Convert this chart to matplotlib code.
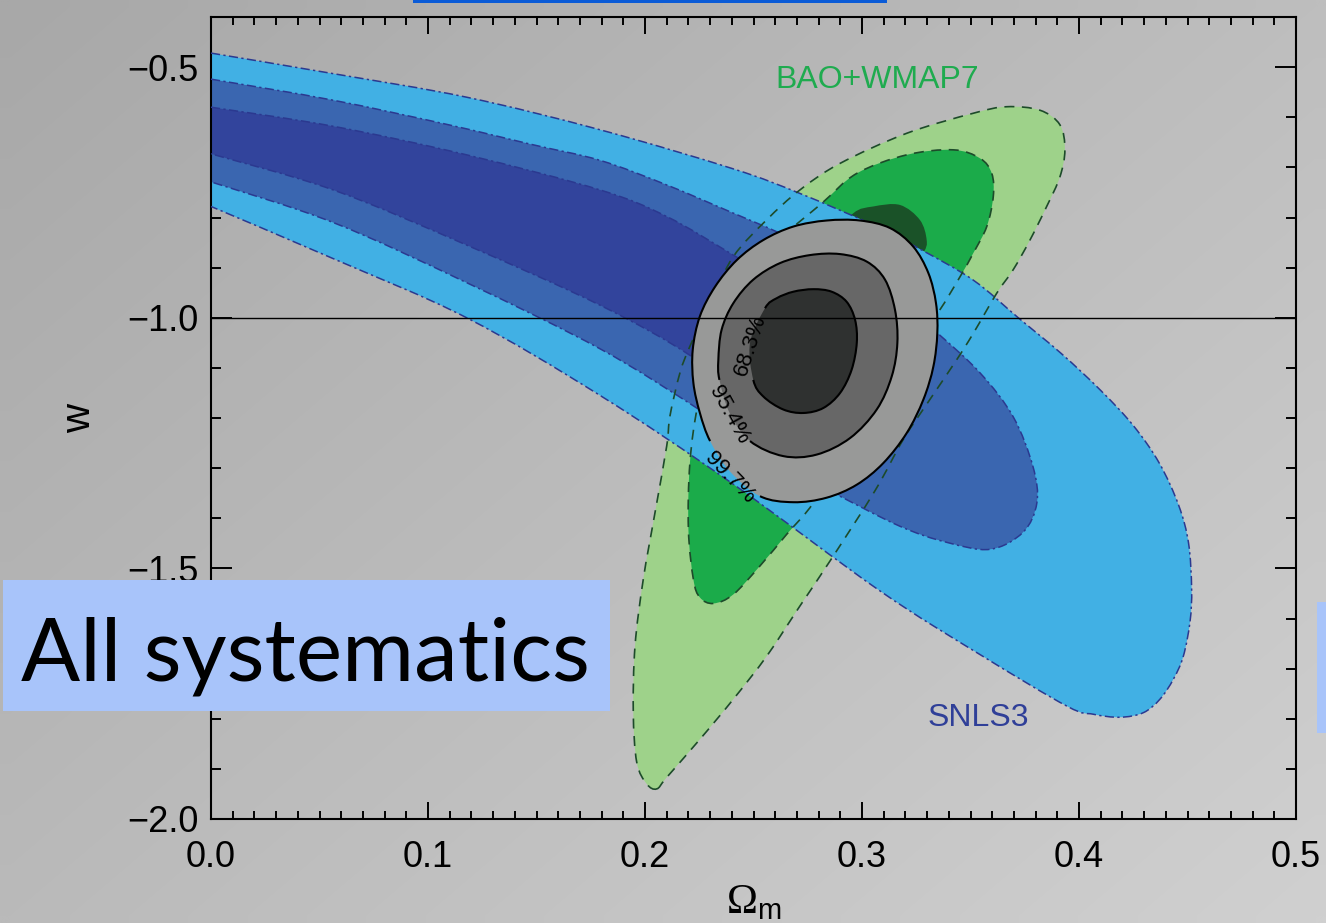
import numpy as np
import matplotlib
matplotlib.use("Agg")
import matplotlib.pyplot as plt
from matplotlib.path import Path
from matplotlib.patches import PathPatch, Rectangle
from matplotlib.ticker import MultipleLocator, FuncFormatter

# ---------------- contour boundaries (Omega_m, w) ----------------
# SNLS3 alone: 99.7 %, 95.4 %, 68.3 % regions (open on the Omega_m = 0 edge)
snls_997_om = [0, .0563, .1178, .1793, .2407, .2714, .3052, .3267, .3513, .3720, .3920, .4100,
               .4250, .4370, .4460, .4505, .4519, .4512, .4481, .4435, .4373, .4296, .4189,
               .4066, .3945, .3544, .3083, .2400, .1793, .1178, .0563, 0]
snls_997_w = [-0.472, -0.513, -0.560, -0.625, -0.703, -0.752, -0.815, -0.863, -0.925, -1.000,
              -1.072, -1.145, -1.215, -1.290, -1.375, -1.450, -1.540, -1.605, -1.675, -1.721,
              -1.761, -1.788, -1.797, -1.791, -1.775, -1.672, -1.545, -1.330, -1.155, -1.000,
              -0.882, -0.778]

snls_954_om = [0, .0563, .1100, .1485, .1793, .2100, .2400, .2620, .2900, .3150, .3346, .3544,
               .3696, .3788, .3806, .3742, .3590, .3390, .3175, .2867, .2650, .2450, .2238,
               .1793, .1178, .0563, 0]
snls_954_w = [-0.524, -0.566, -0.6155, -0.655, -0.686, -0.735, -0.790, -0.831, -0.890, -0.960,
              -1.030, -1.110, -1.197, -1.297, -1.369, -1.428, -1.462, -1.448, -1.416, -1.349,
              -1.300, -1.245, -1.180, -1.062, -0.930, -0.810, -0.729]

snls_683_om = [0, .0563, .1178, .1793, .2100, .2407, .2650, .2850, .2950, .2870, .2650, .2400,
               .2207, .1793, .1178, .0563, 0]
snls_683_w = [-0.580, -0.618, -0.675, -0.745, -0.798, -0.875, -0.940, -1.010, -1.090, -1.150,
              -1.175, -1.150, -1.075, -0.975, -0.855, -0.745, -0.673]

# BAO+WMAP7: closed regions
bao_997_om = [.2054, .2008, .1962, .1946, .1954, .1992, .2046, .2100, .2115, .2161, .2207, .2300,
              .2407, .2560, .2714, .2899, .3206, .3513, .3667, .3820, .3912, .3935, .3912, .3851,
              .3774, .3697, .3621, .3513, .3436, .3313, .3190, .3060, .2853, .2714, .2561, .2407,
              .2253, .2100]
bao_997_w = [-1.940, -1.930, -1.887, -1.787, -1.655, -1.522, -1.389, -1.256, -1.196, -1.110,
             -1.057, -0.970, -0.878, -0.805, -0.745, -0.692, -0.632, -0.592, -0.579, -0.586,
             -0.615, -0.665, -0.719, -0.778, -0.845, -0.904, -0.951, -1.031, -1.084, -1.163,
             -1.243, -1.345, -1.485, -1.575, -1.675, -1.761, -1.841, -1.917]

bao_954_om = [.2315, .2253, .2223, .2200, .2207, .2245, .2320, .2450, .2620, .2814, .2976, .3206,
              .3420, .3544, .3598, .3605, .3575, .3513, .3452, .3350, .3200, .3050, .2900, .2776,
              .2653, .2530, .2407]
bao_954_w = [-1.570, -1.558, -1.522, -1.422, -1.289, -1.170, -1.050, -0.940, -0.845, -0.772,
             -0.712, -0.675, -0.665, -0.682, -0.712, -0.758, -0.818, -0.871, -0.918, -0.990,
             -1.080, -1.170, -1.270, -1.369, -1.432, -1.495, -1.552]

bao_683_om = [.2960, .3052, .3175, .3267, .3298, .3283, .3200, .3050, .2900, .2850]
bao_683_w = [-0.7915, -0.778, -0.775, -0.805, -0.845, -0.871, -0.930, -0.990, -0.960, -0.850]

# Combined SNLS3+BAO+WMAP7; the last two segments of each loop run under its label
comb_997_om = [.2530, .2684, .2837, .2976, .3098, .3206, .3283, .3329, .3347, .3341, .3306,
               .3236, .3129, .2991, .2837, .2684, .2545, .2423, .2323, .2253, .2220, .2223,
               .2253, .2300, .2390]
comb_997_w = [-1.356, -1.368, -1.359, -1.333, -1.290, -1.230, -1.163, -1.097, -1.031, -0.971,
              -0.911, -0.858, -0.821, -0.806, -0.806, -0.818, -0.845, -0.885, -0.938, -0.997,
              -1.064, -1.130, -1.190, -1.246, -1.306]

comb_954_om = [.2484, .2637, .2791, .2945, .3068, .3137, .3163, .3152, .3106, .3022, .2899,
               .2760, .2622, .2499, .2407, .2353, .2338, .2343, .2390]
comb_954_w = [-1.246, -1.276, -1.273, -1.240, -1.183, -1.117, -1.050, -0.984, -0.924, -0.888,
              -0.873, -0.875, -0.891, -0.924, -0.971, -1.024, -1.084, -1.124, -1.190]

comb_683_om = [.2499, .2545, .2637, .2730, .2822, .2899, .2952, .2976, .2968, .2929, .2860,
               .2776, .2684, .2607, .2553, .2484]
comb_683_w = [-1.124, -1.157, -1.183, -1.190, -1.180, -1.150, -1.104, -1.050, -1.004, -0.968,
              -0.948, -0.943, -0.948, -0.961, -0.981, -1.050]

level_labels = ["68.3%", "95.4%", "99.7%"]
label_om = [0.2484, 0.2387, 0.2390]
label_w = [-1.056, -1.193, -1.319]
label_rot = [72, -61, -46]

x_ticks = [0.0, 0.1, 0.2, 0.3, 0.4, 0.5]
y_ticks = [-2.0, -1.5, -1.0, -0.5]

# ---------------- colours ----------------
c_snls = ["#41b0e4", "#3a66b0", "#32449c"]
c_snls_line = "#2b3990"
c_bao = ["#9ed28a", "#1bab4a", "#1a5228"]
c_bao_line = "#1d4b2a"
c_comb = ["#989998", "#676767", "#2f3130"]

plt.rcParams["mathtext.fontset"] = "custom"
plt.rcParams["mathtext.rm"] = "Liberation Sans"
plt.rcParams["mathtext.sf"] = "Liberation Sans"


def spline_segments(om, w, closed):
    """Catmull-Rom spline through the points, as cubic Bezier segments."""
    p = np.column_stack([om, w]).astype(float)
    n = len(p)
    segs = []
    for i in (range(n) if closed else range(n - 1)):
        if closed:
            p0, p1, p2, p3 = p[(i - 1) % n], p[i], p[(i + 1) % n], p[(i + 2) % n]
        else:
            p0, p1, p2, p3 = p[max(i - 1, 0)], p[i], p[i + 1], p[min(i + 2, n - 1)]
        segs.append((p1 + (p2 - p0) / 6.0, p2 - (p3 - p1) / 6.0, p2))
    return p[0], segs


def bezier_path(start, segs, close=False):
    verts, codes = [start], [Path.MOVETO]
    for c1, c2, end in segs:
        verts += [c1, c2, end]
        codes += [Path.CURVE4] * 3
    if close:
        verts.append(start)
        codes.append(Path.CLOSEPOLY)
    return Path(verts, codes)


def minus_fmt(v, _pos):
    return f"{v:.1f}".replace("-", "\u2212")


fig = plt.figure(figsize=(13.26, 9.23), dpi=100)

# slide background: soft diagonal grey gradient
bg = fig.add_axes([0, 0, 1, 1], zorder=-5)
gx, gy = np.meshgrid(np.linspace(0, 1, 64), np.linspace(0, 1, 64))
grey = (168 + 22 * gx + 18 * gy) / 255.0
bg.imshow(np.dstack([grey, grey, grey]), extent=[0, 1, 0, 1], aspect="auto",
          interpolation="bilinear", origin="upper")
bg.set_axis_off()

ax = fig.add_axes([211 / 1326, 104 / 923, 1085 / 1326, 802 / 923])
ax.set_facecolor("none")
ax.set_xlim(0.0, 0.5)
ax.set_ylim(-2.0, -0.4)

# BAO+WMAP7 filled regions
for om, w, col in [(bao_997_om, bao_997_w, c_bao[0]), (bao_954_om, bao_954_w, c_bao[1]),
                   (bao_683_om, bao_683_w, c_bao[2])]:
    s, segs = spline_segments(om, w, closed=True)
    ax.add_patch(PathPatch(bezier_path(s, segs, close=True), facecolor=col,
                           edgecolor="none", zorder=1))

# SNLS3 filled regions and dash-dot outlines
snls_sets = [(snls_997_om, snls_997_w, c_snls[0]), (snls_954_om, snls_954_w, c_snls[1]),
             (snls_683_om, snls_683_w, c_snls[2])]
for om, w, col in snls_sets:
    s, segs = spline_segments(om, w, closed=False)
    ax.add_patch(PathPatch(bezier_path(s, segs, close=True), facecolor=col,
                           edgecolor="none", zorder=2))
for om, w, col in snls_sets:
    s, segs = spline_segments(om, w, closed=False)
    ax.add_patch(PathPatch(bezier_path(s, segs), fill=False, edgecolor=c_snls_line,
                           linewidth=1.1, linestyle=(0, (6, 2.2, 1.5, 2.2)), zorder=3))

# BAO+WMAP7 dashed outlines
for om, w in [(bao_997_om, bao_997_w), (bao_954_om, bao_954_w)]:
    s, segs = spline_segments(om, w, closed=True)
    ax.add_patch(PathPatch(bezier_path(s, segs, close=True), fill=False,
                           edgecolor=c_bao_line, linewidth=1.2, linestyle=(0, (6, 4.5)),
                           zorder=3.5))

# combined constraints: filled loops, outlines broken where the labels sit
for om, w, col in [(comb_997_om, comb_997_w, c_comb[0]), (comb_954_om, comb_954_w, c_comb[1]),
                   (comb_683_om, comb_683_w, c_comb[2])]:
    s, segs = spline_segments(om, w, closed=True)
    ax.add_patch(PathPatch(bezier_path(s, segs, close=True), facecolor=col,
                           edgecolor="none", zorder=4))
    ax.add_patch(PathPatch(bezier_path(s, segs[:-2]), fill=False, edgecolor="black",
                           linewidth=1.5, zorder=4.5))

for txt, om, w, rot in zip(level_labels, label_om, label_w, label_rot):
    ax.text(om, w, txt, rotation=rot, rotation_mode="anchor", ha="center", va="center",
            fontsize=16, family="Liberation Sans", color="black", zorder=5)

ax.axhline(-1.0, color="black", linewidth=1.0, zorder=6)

ax.text(0.307, -0.526, "BAO+WMAP7", color="#1fab4f", fontsize=23,
        family="Liberation Sans", ha="center", va="center", zorder=6)
ax.text(0.3535, -1.799, "SNLS3", color="#2f3f98", fontsize=23,
        family="Liberation Sans", ha="center", va="center", zorder=6)

# axes styling
ax.set_xticks(x_ticks)
ax.set_yticks(y_ticks)
ax.xaxis.set_major_formatter(FuncFormatter(minus_fmt))
ax.yaxis.set_major_formatter(FuncFormatter(minus_fmt))
ax.xaxis.set_minor_locator(MultipleLocator(0.01))
ax.yaxis.set_minor_locator(MultipleLocator(0.1))
ax.tick_params(which="both", direction="in", top=True, right=True, width=1.4,
               color="black", labelsize=26)
ax.tick_params(axis="x", which="major", length=12, pad=15)
ax.tick_params(axis="x", which="minor", length=6)
ax.tick_params(axis="y", which="major", length=15, pad=9)
ax.tick_params(axis="y", which="minor", length=7.5)
for lab in ax.get_xticklabels() + ax.get_yticklabels():
    lab.set_family("Liberation Sans")
for sp in ax.spines.values():
    sp.set_linewidth(1.5)

ax.set_xlabel("\u03a9$_{\\rm m}$", fontsize=30, family="Liberation Serif", labelpad=6)
ax.set_ylabel("w", fontsize=29, family="Liberation Sans", labelpad=21)

# slide overlays
fig.add_artist(Rectangle((3 / 1326, 212 / 923), 607 / 1326, 131 / 923,
                         transform=fig.transFigure, facecolor="#a8c4fa",
                         edgecolor="none", zorder=10))
fig.text(21 / 1326, 243 / 923, "All systematics", family="Lato", fontsize=63,
         color="black", ha="left", va="baseline", zorder=11)
fig.add_artist(Rectangle((413 / 1326, 920 / 923), 474 / 1326, 3 / 923,
                         transform=fig.transFigure, facecolor="#0a5bd7",
                         edgecolor="none", zorder=10))
fig.add_artist(Rectangle((1317 / 1326, 190 / 923), 9 / 1326, 131 / 923,
                         transform=fig.transFigure, facecolor="#a8c4fa",
                         edgecolor="none", zorder=10))

fig.savefig("out.png", dpi=100)
